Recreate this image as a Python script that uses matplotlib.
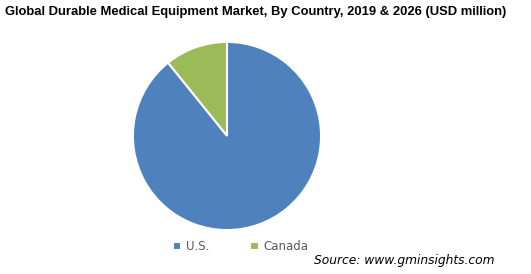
import matplotlib.pyplot as plt

countries = ['Canada', 'U.S.']
shares = [10.8, 89.2]
colors = ['#9BBB59', '#4F81BD']

plt.rcParams['font.family'] = ['Liberation Sans', 'DejaVu Sans']

fig = plt.figure(figsize=(5.31, 2.74), dpi=100)
ax = fig.add_axes([0.2486, 0.157, 0.3578, 0.6934])
wedges, _ = ax.pie(shares, colors=colors, startangle=90, counterclock=True,
                   wedgeprops=dict(edgecolor='white', linewidth=1.5))
ax.set_xlim(-1.01, 1.01)
ax.set_ylim(-1.01, 1.01)
ax.set_aspect('equal')

fig.text(0.009, 0.955, 'Global Durable Medical Equipment Market, By Country, 2019 & 2026 (USD million)',
         fontsize=9.4, fontweight='bold', ha='left', va='center')

leg = fig.legend([wedges[1], wedges[0]], ['U.S.', 'Canada'], loc='center left',
                 bbox_to_anchor=(0.305, 0.1), ncol=2, frameon=False,
                 prop=dict(family='DejaVu Sans', size=8.5),
                 handlelength=0.7, handleheight=0.7, handletextpad=0.4, columnspacing=3.5)
for t in leg.get_texts():
    t.set_color('#595959')

fig.text(0.932, 0.05, 'Source: www.gminsights.com', fontsize=8.8, style='italic',
         family='DejaVu Sans', ha='right', va='center')

fig.savefig('out.png', dpi=100)
